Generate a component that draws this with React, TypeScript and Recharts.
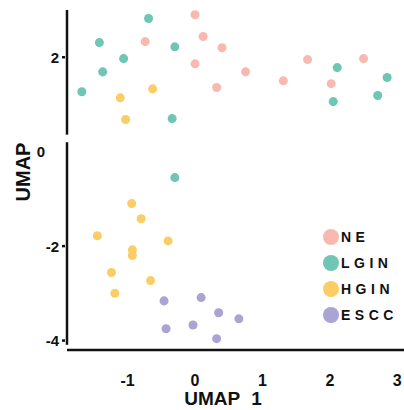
import React from 'react'
import {
    ReferenceLine,
    Scatter,
    ScatterChart,
    XAxis,
    YAxis,
    ZAxis,
} from 'recharts'

// UMAP coordinates
const neX = [0.0, -0.74, 0.12, 0.4, 0.0, 0.32, 0.75, 1.31, 1.67, 2.02, 2.5]
const neY = [2.9, 2.33, 2.44, 2.2, 1.86, 1.36, 1.69, 1.5, 1.95, 1.44, 1.97]

const lginX = [-0.69, -1.42, -0.3, -1.06, -1.37, -1.68, -0.34, 2.11, 2.85, 2.05, 2.71, -0.3]
const lginY = [2.82, 2.31, 2.22, 1.97, 1.69, 1.27, 0.7, 1.78, 1.57, 1.06, 1.19, -0.55]

const hginX = [-0.63, -1.11, -1.03, -0.94, -0.8, -1.45, -0.4, -0.93, -0.93, -1.24, -0.66, -1.19]
const hginY = [1.33, 1.14, 0.68, -1.1, -1.42, -1.78, -1.89, -2.08, -2.2, -2.56, -2.73, -3.0]

const esccX = [-0.46, 0.09, 0.35, 0.65, -0.43, -0.03, 0.32]
const esccY = [-3.16, -3.09, -3.41, -3.54, -3.75, -3.67, -3.96]

const xTicks = [-1, 0, 1, 2, 3]
const yTicks = [-4, -2, 0, 2]

const groups = [
    { name: 'NE', xs: neX, ys: neY, color: '#F8BAB0' },
    { name: 'LGIN', xs: lginX, ys: lginY, color: '#6FC6B4' },
    { name: 'HGIN', xs: hginX, ys: hginY, color: '#FACD66' },
    { name: 'ESCC', xs: esccX, ys: esccY, color: '#AAA4D3' },
]

const toPoints = (xs: number[], ys: number[]) => xs.map((x, i) => ({ x, y: ys[i] }))

const FONT = '"Liberation Sans", Arial, sans-serif'

const XTick = (props: any) => {
    const { x, y, payload } = props
    return (
        <text x={x} y={y + 34} textAnchor="middle" fontFamily={FONT} fontWeight="bold" fontSize={16} fill="#111">
            {payload.value}
        </text>
    )
}

const YTick = (props: any) => {
    const { x, y, payload } = props
    const isZero = payload.value === 0
    return (
        <g>
            {!isZero && <line x1={x - 3} x2={x} y1={y} y2={y} stroke="#111" strokeWidth={2.5} />}
            <text
                x={isZero ? x - 20 : x - 6}
                y={y + 5.5}
                textAnchor="end"
                fontFamily={FONT}
                fontWeight="bold"
                fontSize={15}
                fill="#111"
            >
                {payload.value}
            </text>
        </g>
    )
}

const App = () => {
    return (
        <div style={{ position: 'absolute', left: 0, top: 0, width: 404, height: 410, background: '#fff' }}>
            <ScatterChart width={404} height={410} margin={{ top: 10, right: 0, bottom: 0, left: 0 }}>
                <XAxis
                    type="number"
                    dataKey="x"
                    domain={[-1.9, 3.1]}
                    ticks={xTicks}
                    tick={<XTick />}
                    tickLine={false}
                    tickSize={0}
                    height={60}
                    axisLine={{ stroke: '#111', strokeWidth: 2.5 }}
                    allowDataOverflow
                />
                <YAxis
                    type="number"
                    dataKey="y"
                    domain={[-4.2, 3.0]}
                    ticks={yTicks}
                    tick={<YTick />}
                    tickLine={false}
                    tickSize={0}
                    width={67}
                    axisLine={false}
                    allowDataOverflow
                />
                <ZAxis range={[85, 85]} />
                {/* broken y axis line */}
                <ReferenceLine
                    segment={[{ x: -1.9, y: 3.0 }, { x: -1.9, y: 0.36 }]}
                    stroke="#111"
                    strokeWidth={2.5}
                    ifOverflow="visible"
                />
                <ReferenceLine
                    segment={[{ x: -1.9, y: 0.2 }, { x: -1.9, y: -4.09 }]}
                    stroke="#111"
                    strokeWidth={2.5}
                    ifOverflow="visible"
                />
                {groups.map((g) => (
                    <Scatter
                        key={g.name}
                        name={g.name}
                        data={toPoints(g.xs, g.ys)}
                        fill={g.color}
                        isAnimationActive={false}
                    />
                ))}
                {/* legend */}
                <g>
                    {groups.map((g, i) => (
                        <g key={g.name}>
                            <circle cx={331} cy={237 + i * 26} r={8} fill={g.color} />
                            <text
                                x={341}
                                y={242 + i * 26}
                                fontFamily={FONT}
                                fontWeight="bold"
                                fontSize={14}
                                letterSpacing={4.5}
                                fill="#111"
                            >
                                {g.name}
                            </text>
                        </g>
                    ))}
                </g>
                <text x={223} y={405} textAnchor="middle" fontFamily={FONT} fontWeight="bold" fontSize={19} fill="#111" style={{ wordSpacing: 6 }}>
                    UMAP 1
                </text>
                <text
                    x={30}
                    y={172}
                    transform="rotate(-90 30 172)"
                    textAnchor="middle"
                    fontFamily={FONT}
                    fontWeight="bold"
                    fontSize={20}
                    fill="#111"
                >
                    UMAP
                </text>
            </ScatterChart>
        </div>
    )
}

export default App
